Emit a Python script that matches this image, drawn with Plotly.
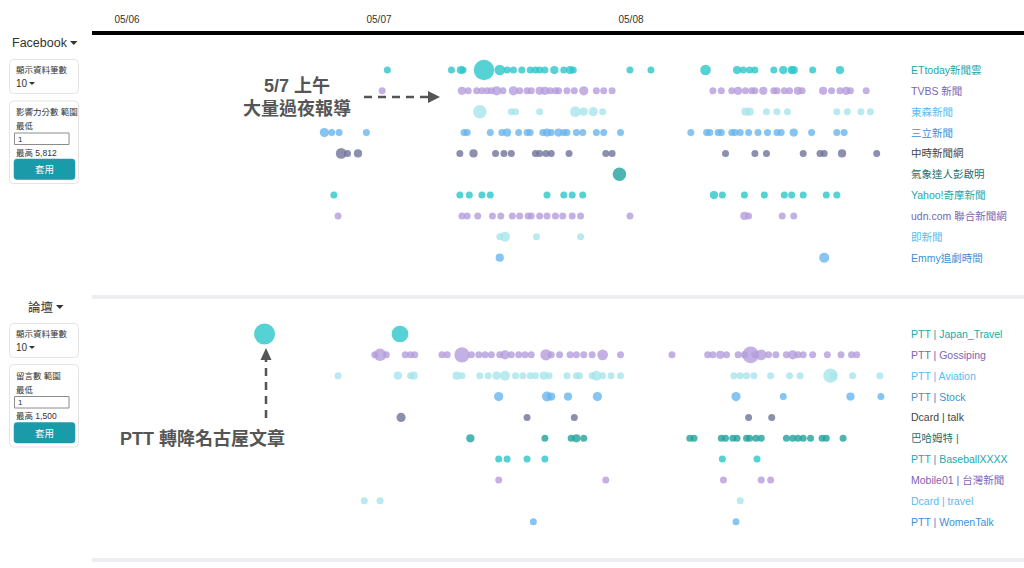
import pandas as pd
import plotly.graph_objects as go

# ---------------- data ----------------
BASE_DAY = "2023-05-06"
TICK_DAYS = ["2023-05-06", "2023-05-07", "2023-05-08"]
TICK_TEXT = ["05/06", "05/07", "05/08"]

FB_SOURCES = ["ETtoday新聞雲", "TVBS 新聞", "東森新聞", "三立新聞", "中時新聞網",
              "氣象達人彭啟明", "Yahoo!奇摩新聞", "udn.com 聯合新聞網", "即新聞", "Emmy追劇時間"]
FORUM_SOURCES = ["PTT | Japan_Travel", "PTT | Gossiping", "PTT | Aviation", "PTT | Stock",
                 "Dcard | talk", "巴哈姆特 |", "PTT | BaseballXXXX", "Mobile01 | 台灣新聞",
                 "Dcard | travel", "PTT | WomenTalk"]

# (hours after 05/06 00:00, influence score)
ETTODAY = [(24.8,1),(30.9,1),(31.8,2),(32.0,1),(34.0,30),(35.5,5),(36.2,1),(36.8,1),(37.6,1),(38.4,1),
           (38.9,1),(39.3,1),(39.8,1),(40.7,2),(41.6,1),(42.2,2),(42.5,1),(47.9,1),(49.9,1),(55.1,5),
           (58.1,2),(58.7,1),(59.3,1),(59.8,1),(61.6,1),(62.5,2),(63.3,2),(63.5,2),(65.3,1),(67.9,2)]
TVBS = [(24.3,1),(31.9,2),(32.5,1),(33.3,1),(33.8,1),(34.3,1),(34.7,1),(35.2,3),(35.8,1),(36.8,3),
        (37.4,1),(38.1,1),(38.5,1),(39.3,2),(39.8,2),(40.3,1),(40.8,1),(41.1,1),(41.9,1),(42.6,1),
        (43.5,3),(44.7,1),(45.4,1),(46.2,1),(55.8,1),(56.6,1),(57.6,1),(58.2,2),(58.9,1),(59.5,1),
        (59.8,1),(60.6,2),(61.6,1),(61.9,1),(62.6,1),(63.1,1),(63.9,2),(64.3,1),(66.3,2),(67.1,1),
        (67.9,1),(68.5,2),(68.9,1),(70.4,1)]
EBC = [(33.6,10),(36.6,1),(37.0,1),(39.3,1),(42.7,5),(43.5,2),(44.4,3),(45.3,1),(58.9,2),(59.3,2),
       (60.9,1),(61.9,1),(62.9,1),(67.6,1),(68.6,1),(69.9,1),(70.8,1)]
SETN = [(18.8,3),(19.5,1),(20.2,1),(22.8,1),(32.1,1),(32.4,1),(34.6,1),(35.7,1),(36.2,2),(37.3,1),
        (38.1,1),(38.4,1),(39.6,1),(40.0,2),(40.4,1),(41.1,2),(41.6,1),(41.9,1),(42.8,1),(43.4,1),
        (44.7,1),(45.4,1),(47.0,1),(53.7,1),(55.2,1),(55.5,1),(56.3,1),(56.6,1),(57.6,1),(57.9,1),
        (58.4,1),(59.2,1),(60.1,1),(61.0,1),(61.9,1),(62.3,1),(63.5,2),(65.2,1),(67.6,1),(68.3,1)]
CHINATIMES = [(20.4,5),(21.0,1),(22.0,2),(31.7,1),(33.0,2),(35.1,1),(35.9,1),(36.6,1),(38.9,1),(39.3,1),
              (39.9,1),(40.4,1),(42.1,1),(45.6,1),(46.2,1),(57.0,1),(59.8,1),(60.9,1),(64.4,1),(66.0,1),
              (66.4,1),(68.1,2),(71.4,1)]
WEATHER = [(46.9,10)]
YAHOO = [(19.7,1),(31.7,1),(32.6,1),(33.8,1),(34.6,1),(40.0,1),(41.6,1),(42.4,1),(43.4,1),(55.9,2),
         (56.7,1),(58.8,1),(60.7,1),(62.6,1),(63.3,1),(64.4,1),(66.6,1),(67.6,1)]
UDN = [(20.1,1),(31.9,1),(32.4,1),(33.4,1),(34.8,1),(35.6,1),(36.7,1),(37.4,1),(38.2,1),(38.5,1),
       (39.3,1),(40.0,1),(40.8,1),(41.5,1),(42.4,1),(43.2,1),(47.9,1),(58.8,2),(59.2,1),(62.4,1),(63.5,1)]
JINEWS = [(35.5,1),(36.0,4),(39.0,1),(43.2,1)]
EMMY = [(35.5,2),(66.4,4)]

JAPAN_TRAVEL = [(13.1,32),(26.0,18)]
GOSSIPING = [(23.6,1),(24.1,8),(24.7,1),(26.5,1),(27.0,1),(27.4,1),(30.0,1),(30.5,1),(31.9,14),(32.8,1),
             (33.5,1),(34.1,1),(34.7,1),(35.5,1),(36.0,3),(36.6,1),(37.3,1),(37.9,1),(38.5,1),(39.9,6),
             (40.4,1),(41.2,1),(42.2,1),(42.8,1),(43.5,1),(44.3,1),(45.3,5),(47.0,1),(51.9,1),(55.3,1),
             (55.8,1),(56.5,2),(57.1,1),(58.2,1),(58.8,1),(59.4,18),(59.8,1),(60.4,5),(61.1,1),(61.8,1),
             (62.8,1),(63.4,3),(63.9,1),(64.4,1),(65.3,1),(66.7,1),(68.0,1),(69.0,1),(69.5,1)]
AVIATION = [(20.1,1),(25.8,2),(27.0,1),(27.3,2),(31.4,2),(31.9,1),(33.6,1),(34.4,1),(35.2,2),(36.0,4),
            (37.0,1),(37.7,1),(38.4,1),(38.9,1),(39.7,2),(40.2,1),(41.9,1),(42.8,1),(43.1,1),(44.3,1),
            (44.7,4),(45.3,1),(46.1,1),(47.0,1),(57.8,1),(58.4,1),(59.0,1),(59.7,1),(61.3,1),(63.1,1),
            (64.1,1),(67.0,12),(67.3,1),(69.1,1),(71.7,1)]
STOCK = [(35.4,3),(40.0,4),(40.4,2),(42.0,2),(44.8,3),(58.0,3),(62.5,1),(68.9,2),(71.8,1)]
DCARD_TALK = [(26.1,3),(38.1,1),(42.6,1),(59.2,1),(61.4,1)]
BAHAMUT = [(32.7,2),(39.8,1),(42.3,1),(42.8,2),(43.5,1),(53.6,1),(54.0,1),(56.6,1),(57.0,1),(57.7,1),
           (58.1,1),(59.0,1),(59.3,1),(59.9,1),(60.4,1),(62.8,1),(63.4,1),(63.9,1),(64.4,1),(65.1,1),
           (66.2,1),(66.6,1),(68.2,1)]
BASEBALL = [(35.4,1),(36.2,1),(38.1,1),(39.8,1),(56.7,1),(60.0,1)]
MOBILE01 = [(35.4,1),(45.6,1),(56.8,1),(60.4,1),(61.3,1)]
DCARD_TRAVEL = [(22.6,1),(24.1,1),(58.4,1)]
WOMENTALK = [(38.7,1),(58.0,1)]

FB_DATA = [ETTODAY, TVBS, EBC, SETN, CHINATIMES, WEATHER, YAHOO, UDN, JINEWS, EMMY]
FORUM_DATA = [JAPAN_TRAVEL, GOSSIPING, AVIATION, STOCK, DCARD_TALK, BAHAMUT, BASEBALL,
              MOBILE01, DCARD_TRAVEL, WOMENTALK]

# ---------------- styles ----------------
DOT_COLORS = ["#2CC7C9", "#B39DDB", "#A6E5EB", "#68B5EE", "#6F7398", "#1FA39E"]
LABEL_COLORS = ["#20A9AB", "#7D63B5", "#56BDF2", "#3D8FD8", "#444444", "#1E6F6B"]
FONT = "Liberation Sans, Noto Sans CJK TC, sans-serif"

W, H = 1024, 568
PL, PR, PT, PB = 92, 885, 33, 560
base = pd.Timestamp(BASE_DAY)
PX_PER_H = 10.5
X0_PX_OF_DAY0 = 127


def xp(px):
    return (px - PL) / (PR - PL)


def yp(py):
    return (PB - py) / (PB - PT)


def hours_to_time(hs):
    return [base + pd.Timedelta(hours=h) for h in hs]


def size_of(score):
    return 4 + 3 * score ** 0.5


ROW_H = 20.85
FB_TOP = 70 - ROW_H / 2
FO_TOP = 334 - ROW_H / 2

fig = go.Figure()

for sources, data, yname in [(FB_SOURCES, FB_DATA, "y"), (FORUM_SOURCES, FORUM_DATA, "y2")]:
    for i, (name, pts) in enumerate(zip(sources, data)):
        hs = [p[0] for p in pts]
        sc = [p[1] for p in pts]
        fig.add_trace(go.Scatter(
            x=hours_to_time(hs), y=[name] * len(hs), yaxis=yname, mode="markers",
            marker=dict(size=[size_of(s) for s in sc], color=DOT_COLORS[i % 6], opacity=0.8,
                        line=dict(width=0)),
            cliponaxis=False, showlegend=False, hoverinfo="x+y"))

start = base + pd.Timedelta(hours=(PL - X0_PX_OF_DAY0) / PX_PER_H)
end = base + pd.Timedelta(hours=(PR - X0_PX_OF_DAY0) / PX_PER_H)

fig.update_layout(
    width=W, height=H, margin=dict(l=PL, r=W - PR, t=PT, b=H - PB),
    paper_bgcolor="white", plot_bgcolor="white",
    font=dict(family=FONT, color="#333"),
    xaxis=dict(type="date", range=[start, end], side="top", anchor="free", position=1,
               tickvals=[pd.Timestamp(d) for d in TICK_DAYS], ticktext=TICK_TEXT,
               showgrid=False, zeroline=False, showline=False, ticks="outside", ticklen=6,
               tickcolor="rgba(0,0,0,0)", tickfont=dict(size=10, color="#333")),
    yaxis=dict(domain=[yp(FB_TOP + 10 * ROW_H), yp(FB_TOP)], type="category",
               categoryarray=FB_SOURCES, range=[9.5, -0.5], visible=False),
    yaxis2=dict(domain=[yp(FO_TOP + 10 * ROW_H), yp(FO_TOP)], type="category",
                categoryarray=FORUM_SOURCES, range=[9.5, -0.5], visible=False, anchor="x"),
)

# row labels
for sources, yref in [(FB_SOURCES, "y"), (FORUM_SOURCES, "y2")]:
    for i, name in enumerate(sources):
        fig.add_annotation(x=xp(909), y=name, xref="paper", yref=yref, text=name,
                           xanchor="left", yanchor="middle", showarrow=False,
                           font=dict(size=10.5, color=LABEL_COLORS[i % 6], family=FONT))

shapes = []


def hline(py, x0, x1, color, width):
    shapes.append(dict(type="line", xref="paper", yref="paper", x0=xp(x0), x1=xp(x1),
                       y0=yp(py), y1=yp(py), line=dict(color=color, width=width)))


hline(33, 92, 1024, "black", 4)
hline(297, 92, 1024, "#EDEDF2", 4)
hline(560, 92, 1024, "#EDEDF2", 4)


def rrect(x0, y0, x1, y1, r, fill, line_color, line_w):
    X, Y = xp, yp
    path = (f"M{X(x0 + r)},{Y(y0)} L{X(x1 - r)},{Y(y0)} Q{X(x1)},{Y(y0)} {X(x1)},{Y(y0 + r)} "
            f"L{X(x1)},{Y(y1 - r)} Q{X(x1)},{Y(y1)} {X(x1 - r)},{Y(y1)} "
            f"L{X(x0 + r)},{Y(y1)} Q{X(x0)},{Y(y1)} {X(x0)},{Y(y1 - r)} "
            f"L{X(x0)},{Y(y0 + r)} Q{X(x0)},{Y(y0)} {X(x0 + r)},{Y(y0)} Z")
    shapes.append(dict(type="path", xref="paper", yref="paper", path=path, fillcolor=fill,
                       line=dict(color=line_color, width=line_w), layer="above"))


def tri(pts, color):
    path = "M" + " L".join(f"{xp(a)},{yp(b)}" for a, b in pts) + " Z"
    shapes.append(dict(type="path", xref="paper", yref="paper", path=path, fillcolor=color,
                       line=dict(width=0), layer="above"))


def text(px, py, s, size, color="#333", anchor="left", bold=False):
    if bold:
        s = "<b>" + s.replace("<br>", "</b><br><b>") + "</b>"
    fig.add_annotation(x=xp(px), y=yp(py), xref="paper", yref="paper", text=s,
                       xanchor=anchor, yanchor="middle", showarrow=False,
                       font=dict(size=size, color=color, family=FONT))


# left control panels
for (title, tx, ty, tsize, cap_x, top1, top2, range_label, max_label) in [
        ("Facebook", 10, 43, 12.5, 70, 59.5, 101, "影響力分數 範圍", "最高 5,812"),
        ("論壇", 25.5, 307, 12.5, 56, 323.5, 364.5, "留言數 範圍", "最高 1,500")]:
    text(tx, ty, title, tsize, "#333")
    tri([(cap_x, ty - 2), (cap_x + 7.5, ty - 2), (cap_x + 3.75, ty + 2)], "#333")
    rrect(9.5, top1, 78.5, top1 + 34, 4, "white", "#E4E4E4", 1)
    text(14, top1 + 10.5, "顯示資料筆數", 8.5)
    text(13.5, top1 + 24, "10", 10)
    tri([(29, top1 + 22.5), (35, top1 + 22.5), (32, top1 + 25.5)], "#333")
    rrect(9.5, top2, 78.5, top2 + 82.5, 4, "white", "#E4E4E4", 1)
    text(14, top2 + 11, range_label, 8.5)
    text(14, top2 + 25, "最低", 8.5)
    shapes.append(dict(type="rect", xref="paper", yref="paper", x0=xp(14.5), x1=xp(69),
                       y0=yp(top2 + 32), y1=yp(top2 + 43.5), fillcolor="white",
                       line=dict(color="#8C8C8C", width=1), layer="above"))
    text(16, top2 + 38, "1", 8)
    text(14, top2 + 51.5, max_label, 8.5)
    rrect(14, top2 + 58, 75, top2 + 78.5, 3, "#1B9AAA", "#1B9AAA", 0.5)
    text(44.5, top2 + 68.5, "套用", 9.5, "white", "center")

# annotations
text(297, 98, "5/7 上午<br>大量過夜報導", 18, "#555", "center", bold=True)
shapes.append(dict(type="line", xref="paper", yref="paper", x0=xp(364), x1=xp(428),
                   y0=yp(97), y1=yp(97), line=dict(color="#555", width=2.5, dash="8px,6px")))
tri([(428, 91), (440, 97), (428, 103)], "#555")

text(202, 438, "PTT 轉降名古屋文章", 18, "#555", "center", bold=True)
shapes.append(dict(type="line", xref="paper", yref="paper", x0=xp(266), x1=xp(266),
                   y0=yp(418), y1=yp(360), line=dict(color="#555", width=2.5, dash="8px,6px")))
tri([(260.5, 360), (266, 348), (271.5, 360)], "#555")

fig.update_layout(shapes=shapes)

fig.write_html("out.html", include_plotlyjs=True, config={"displayModeBar": False},
               post_script="document.body.style.margin='0px';")
